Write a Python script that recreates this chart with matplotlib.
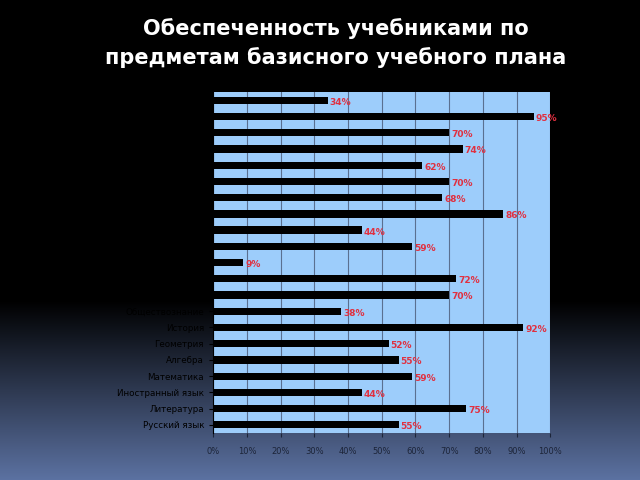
import numpy as np
import matplotlib
matplotlib.use("Agg")
import matplotlib.pyplot as plt
from matplotlib.ticker import FuncFormatter

title = "Обеспеченность учебниками по\nпредметам базисного учебного плана"

# categories from bottom to top
categories = ["Русский язык", "Литература", "Иностранный язык", "Математика",
              "Алгебра", "Геометрия", "История", "Обществознание", "Право",
              "Экономика", "География", "Природоведение", "Биология", "Физика",
              "Химия", "ИЗО", "Музыка", "Технология", "Физкультура", "ОБЖ", "МХК"]
values = [55, 75, 44, 59, 55, 52, 92, 38, 70, 72, 9, 59, 44, 86, 68, 70, 62,
          74, 70, 95, 34]
xticks = [0, 10, 20, 30, 40, 50, 60, 70, 80, 90, 100]

fig = plt.figure(figsize=(6.4, 4.8), dpi=100, facecolor="black")

# background gradient
bg = fig.add_axes([0, 0, 1, 1])
H = 480
rows = np.zeros((H, 1, 3))
top_c = np.array([0, 0, 0]) / 255
bot_c = np.array([92, 114, 162]) / 255
for i in range(H):
    t = (i - 300) / (H - 300)
    t = min(max(t, 0), 1)
    rows[i, 0] = top_c + (bot_c - top_c) * t
bg.imshow(rows, aspect="auto", extent=[0, 1, 0, 1], origin="upper",
          interpolation="nearest")
bg.set_axis_off()

fig.text(0.525, 0.91, title, ha="center", va="center", color="white",
         fontsize=15, fontweight="bold", linespacing=1.5)

ax = fig.add_axes([0.333, 0.098, 0.527, 0.71])
ax.set_facecolor("#9dcdfb")
y = np.arange(len(categories))
ax.barh(y, values, height=0.45, color="black", zorder=3)
ax.set_xlim(0, 100)
ax.set_ylim(-0.5, len(categories) - 0.5)
ax.set_xticks(xticks)
ax.xaxis.set_major_formatter(FuncFormatter(lambda v, p: f"{int(v)}%"))
ax.set_yticks(y)
ax.set_yticklabels(categories, color="black")
ax.grid(axis="x", color="#5a7090", linewidth=0.8, zorder=1)
ax.tick_params(axis="x", colors="#1c2438", labelsize=6, length=3, pad=7)
ax.tick_params(axis="y", labelsize=6.3, length=3, color="black")
for s in ["top", "right", "bottom"]:
    ax.spines[s].set_visible(False)
ax.spines["left"].set_color("black")

for yi, v in zip(y, values):
    ax.text(v + 0.6, yi - 0.12, f"{v}%", va="center", ha="left",
            color="#e03040", fontsize=6.5, fontweight="bold", zorder=4)

fig.savefig("out.png", dpi=100, facecolor="black")
